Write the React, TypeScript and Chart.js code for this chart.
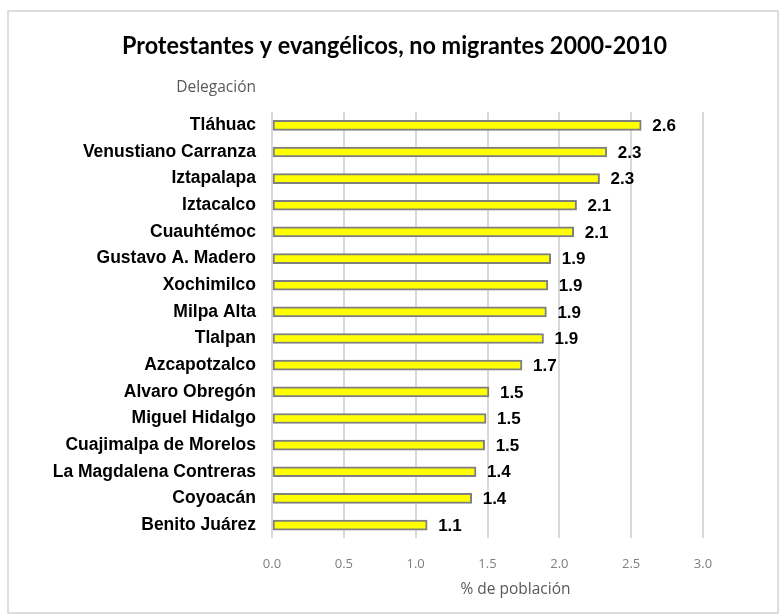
import React, { useEffect, useRef } from "react";
import { Chart, registerables } from "chart.js";

Chart.register(...registerables);

const chartTitle = "Protestantes y evangélicos, no migrantes 2000-2010";
const yAxisTitle = "Delegación";
const xAxisTitle = "% de población";

const categories = [
  "Tláhuac",
  "Venustiano Carranza",
  "Iztapalapa",
  "Iztacalco",
  "Cuauhtémoc",
  "Gustavo A. Madero",
  "Xochimilco",
  "Milpa Alta",
  "Tlalpan",
  "Azcapotzalco",
  "Alvaro Obregón",
  "Miguel Hidalgo",
  "Cuajimalpa de Morelos",
  "La Magdalena Contreras",
  "Coyoacán",
  "Benito Juárez",
];

const values = [2.57, 2.33, 2.28, 2.12, 2.1, 1.94, 1.92, 1.91, 1.89, 1.74, 1.51, 1.49, 1.48, 1.42, 1.39, 1.08];

const xMin = 0;
const xMax = 3;
const xStep = 0.5;

const valueLabelsPlugin = {
  id: "valueLabels",
  afterDatasetsDraw(chart: any) {
    const ctx = chart.ctx;
    const meta = chart.getDatasetMeta(0);
    ctx.save();
    ctx.font = "bold 17px 'Liberation Sans', Arial, sans-serif";
    ctx.fillStyle = "#000000";
    ctx.textAlign = "left";
    ctx.textBaseline = "middle";
    meta.data.forEach((el: any, i: number) => {
      const v = chart.data.datasets[0].data[i] as number;
      ctx.fillText(v.toFixed(1), el.x + 11, el.y + 1);
    });
    ctx.restore();
  },
};

const textsPlugin = {
  id: "texts",
  afterDraw(chart: any) {
    const ctx = chart.ctx;
    const area = chart.chartArea;
    const yScale = chart.scales.y;
    ctx.save();
    // chart title
    ctx.fillStyle = "#000000";
    ctx.font = "bold 25px Lato, 'Open Sans', sans-serif";
    ctx.textAlign = "center";
    ctx.textBaseline = "middle";
    ctx.fillText(chartTitle, chart.width / 2 + 5, 46, 545);
    // axis titles
    ctx.fillStyle = "#595959";
    ctx.font = "15.5px 'Open Sans', sans-serif";
    ctx.textAlign = "right";
    ctx.fillText(yAxisTitle, yScale.right - 16, area.top - 24);
    ctx.textAlign = "center";
    ctx.fillText(xAxisTitle, (area.left + area.right) / 2 + 28, area.bottom + 51);
    ctx.restore();
  },
};

export default function App() {
  const canvasRef = useRef<HTMLCanvasElement | null>(null);

  useEffect(() => {
    if (!canvasRef.current) return;
    const chart = new Chart(canvasRef.current, {
      type: "bar",
      data: {
        labels: categories,
        datasets: [
          {
            data: values,
            backgroundColor: "#ffff00",
            borderColor: "#7f7f7f",
            borderWidth: 2,
            borderSkipped: false,
            barThickness: 10,
          },
        ],
      },
      options: {
        indexAxis: "y",
        animation: false,
        responsive: false,
        layout: { padding: { left: 30, right: 76, top: 112, bottom: 26 } },
        plugins: {
          legend: { display: false },
          tooltip: { enabled: false },
          title: { display: false },
        },
        scales: {
          x: {
            min: xMin,
            max: xMax,
            ticks: {
              stepSize: xStep,
              padding: 18,
              color: "#7f7f7f",
              font: { family: "'Open Sans', sans-serif", size: 13 },
              callback: (v: any) => Number(v).toFixed(1),
            },
            grid: { color: "#d9d9d9", lineWidth: 2, drawTicks: false },
            border: { display: false },
          },
          y: {
            ticks: {
              padding: 16,
              color: "#000000",
              font: { family: "'Liberation Sans', Arial, sans-serif", size: 17.5, weight: "bold" },
            },
            grid: { display: false, drawTicks: false },
            border: { display: false },
            afterFit: (scale: any) => {
              scale.width = 242;
            },
          },
        },
      },
      plugins: [valueLabelsPlugin, textsPlugin],
    });
    return () => chart.destroy();
  }, []);

  return (
    <div style={{ position: "absolute", left: 0, top: 0, width: 779, height: 616, background: "#ffffff" }}>
      <div
        style={{
          position: "absolute",
          left: 7,
          top: 10,
          width: 772,
          height: 604,
          boxSizing: "border-box",
          border: "2px solid #dedede",
        }}
      />
      <canvas ref={canvasRef} width={779} height={616} style={{ position: "absolute", left: 0, top: 0, display: "block" }} />
    </div>
  );
}
